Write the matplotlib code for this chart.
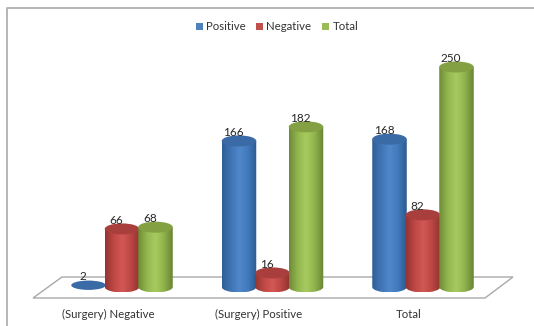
"""Cylinder column chart: surgery outcome against test result."""
import matplotlib
matplotlib.use("Agg")
import matplotlib.pyplot as plt
import numpy as np
from matplotlib.colors import LinearSegmentedColormap
from matplotlib.patches import Ellipse, PathPatch, Polygon, Rectangle
from matplotlib.path import Path

plt.rcParams["font.family"] = ["Lato", "DejaVu Sans"]

categories = ["(Surgery) Negative", "(Surgery) Positive", "Total"]
series_names = ["Positive", "Negative", "Total"]
positive = [2, 166, 168]
negative = [66, 16, 82]
total = [68, 182, 250]

W, H = 534, 326
PX_PER_CAT = 150.5      # pixels between category centres
PX_PER_UNIT = 0.88      # pixels per count
X0_PX, Y0_PX = 122, 287 # where category 0 / count 0 sits
BAR_OFFSET = 33.5 / PX_PER_CAT
BAR_W = 34.5 / PX_PER_CAT
ELL_H = 11 / PX_PER_UNIT

# colour ramps: dark edge, mid, highlight, mid, dark edge
RAMPS = {
    "Positive": ["#2f5f97", "#3f74b4", "#4f88cb", "#4279bb", "#2c5a90"],
    "Negative": ["#953432", "#bf4845", "#d25854", "#bb4643", "#8e3230"],
    "Total": ["#6f8c36", "#93b650", "#a8cb60", "#8fb24c", "#688433"],
}
TOPS = {"Positive": "#3a6ba6", "Negative": "#a93f3c", "Total": "#83a043"}
SWATCH = {"Positive": "#4f81bd", "Negative": "#c0504d", "Total": "#9bbb59"}


def cylinder(ax, x, value, name):
    left, right = x - BAR_W / 2, x + BAR_W / 2
    if value < 5:
        ax.add_patch(Ellipse((x, value), BAR_W, ELL_H * 0.85, fc=TOPS[name], ec="none", zorder=4))
        return
    # body outline: straight sides with a curved underside
    k = 0.5523
    rx, ry = BAR_W / 2, ELL_H / 2
    verts = [(left, value), (left, 0),
             (left, -ry * k), (x - rx * k, -ry), (x, -ry),
             (x + rx * k, -ry), (right, -ry * k), (right, 0),
             (right, value), (left, value)]
    codes = [Path.MOVETO, Path.LINETO,
             Path.CURVE4, Path.CURVE4, Path.CURVE4,
             Path.CURVE4, Path.CURVE4, Path.CURVE4,
             Path.LINETO, Path.CLOSEPOLY]
    outline = PathPatch(Path(verts, codes), fc="none", ec="none", zorder=4)
    ax.add_patch(outline)
    cmap = LinearSegmentedColormap.from_list(name, RAMPS[name])
    img = ax.imshow(np.linspace(0, 1, 64)[None, :], cmap=cmap, aspect="auto",
                    extent=(left, right, -ry, value), zorder=4, interpolation="bilinear")
    img.set_clip_path(outline)
    ax.add_patch(Ellipse((x, value), BAR_W, ELL_H, fc=TOPS[name], ec="none", zorder=4))


fig = plt.figure(figsize=(W / 100, H / 100), dpi=100, facecolor="white")
ax = fig.add_axes([0, 0, 1, 1])
ax.axis("off")


def xp(px):
    return (px - X0_PX) / PX_PER_CAT


def yp(py):
    return (Y0_PX - py) / PX_PER_UNIT


# chart frame: only the top and left edges fall inside the canvas
ax.plot([xp(W), xp(7), xp(7)], [yp(8), yp(8), yp(H)], color="#b0b0b0", lw=1.3, zorder=1)

# floor of the 3D plot
floor = [(xp(33), yp(298)), (xp(485), yp(298)), (xp(513), yp(277)), (xp(62), yp(277))]
ax.add_patch(Polygon(floor, closed=True, fc="white", ec="#a9a9a9", lw=1.0, zorder=2))

for s, (name, values) in enumerate(zip(series_names, [positive, negative, total])):
    for c, value in enumerate(values):
        x = c + (s - 1) * BAR_OFFSET
        cylinder(ax, x, value, name)
        # labels sit slightly left of the column, just over its cap
        ax.text(x - 5.5 / PX_PER_CAT, value + 8.5 / PX_PER_UNIT, str(value),
                ha="center", va="center", fontsize=8.5, color="#262626", zorder=6)

for c, label in enumerate(categories):
    ax.text(c - 14 / PX_PER_CAT, yp(314), label, ha="center", va="center",
            fontsize=8.2, color="#333333")

# legend along the top
legend_x = [196, 256, 322]
for px, name in zip(legend_x, series_names):
    ax.add_patch(Rectangle((xp(px), yp(29.5)), 7 / PX_PER_CAT, 7 / PX_PER_UNIT,
                           fc=SWATCH[name], ec="none"))
    ax.text(xp(px + 10.5), yp(26), name, ha="left", va="center", fontsize=8.2, color="#333333")

ax.set_xlim((0 - X0_PX) / PX_PER_CAT, (W - X0_PX) / PX_PER_CAT)
ax.set_ylim((Y0_PX - H) / PX_PER_UNIT, Y0_PX / PX_PER_UNIT)
fig.savefig("out.png", dpi=100)
